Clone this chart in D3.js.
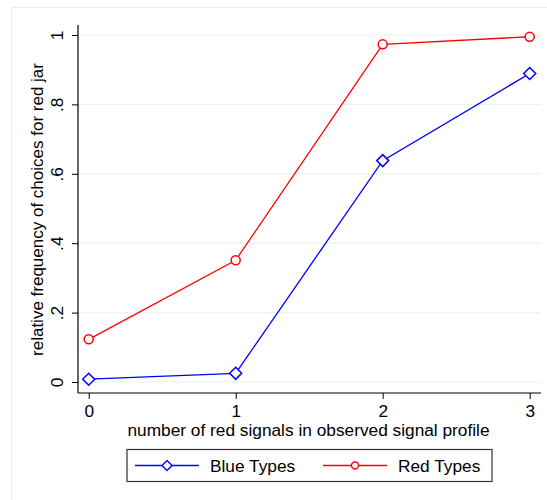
<!DOCTYPE html>
<html><head><meta charset="utf-8">
<script src="https://cdn.jsdelivr.net/npm/d3@7"></script>
<style>body{margin:0;background:#fff}svg{display:block}text{font-family:"Liberation Sans",Arial,sans-serif;fill:#000}</style>
</head><body>
<svg id="c" width="547" height="500"></svg>
<script>
const categories = [0, 1, 2, 3];
const blueTypes = [0.008, 0.025, 0.638, 0.889];
const redTypes = [0.123, 0.351, 0.973, 0.995];
const yTicks = [0, 0.2, 0.4, 0.6, 0.8, 1];
const yTickLabels = ["0", ".2", ".4", ".6", ".8", "1"];
const seriesNames = ["Blue Types", "Red Types"];

(function(){
const FS = 17.3;
const svg = d3.select("#c");
svg.append("rect").attr("x",11.5).attr("y",7.5).attr("width",700).attr("height",700)
  .attr("fill","none").attr("stroke","#e6eef0");

const x = d3.scaleLinear().domain([0,3]).range([88.7,529.7]);
const y = d3.scaleLinear().domain([0,1]).range([382,35]);
const pLeft = 78, pRight = 541, pBottom = 393, pTop = 25;

// gridlines
svg.append("g").selectAll("line").data(yTicks).join("line")
  .attr("x1",pLeft).attr("x2",pRight).attr("y1",d=>y(d)).attr("y2",d=>y(d))
  .attr("stroke","#eaf2f3").attr("stroke-width",1.2);

// y axis
const ya = svg.append("g").attr("transform",`translate(${pLeft},0)`)
  .call(d3.axisLeft(y).tickValues(yTicks).tickFormat((d,i)=>yTickLabels[i]).tickSize(6).tickSizeOuter(0));
ya.select(".domain").remove();
ya.selectAll(".tick line").attr("stroke","#000");
ya.selectAll(".tick text").attr("font-size",FS).attr("text-anchor","middle")
  .attr("x",0).attr("dy",0).attr("transform","translate(-15,0) rotate(-90)");
svg.append("line").attr("x1",pLeft).attr("x2",pLeft).attr("y1",pTop).attr("y2",pBottom).attr("stroke","#000").attr("stroke-width",1.2);

// x axis
const xa = svg.append("g").attr("transform",`translate(0,${pBottom})`)
  .call(d3.axisBottom(x).tickValues(categories).tickFormat(d3.format("d")).tickSize(6).tickSizeOuter(0));
xa.select(".domain").remove();
xa.selectAll(".tick line").attr("stroke","#000");
xa.selectAll(".tick text").attr("font-size",FS).attr("y",23.5).attr("dy",0);
svg.append("line").attr("x1",pLeft).attr("x2",pRight).attr("y1",pBottom).attr("y2",pBottom).attr("stroke","#000").attr("stroke-width",1.2);

// titles
svg.append("text").attr("transform","translate(43,209.5) rotate(-90)").attr("text-anchor","middle")
  .attr("font-size",17).text("relative frequency of choices for red jar");
svg.append("text").attr("x",308.5).attr("y",436).attr("text-anchor","middle")
  .attr("font-size",FS).text("number of red signals in observed signal profile");

const line = d3.line().x((d,i)=>x(categories[i])).y(d=>y(d));
const diamond = (cx,cy,r)=>`M${cx},${cy-r}L${cx+r},${cy}L${cx},${cy+r}L${cx-r},${cy}Z`;

function drawSeries(vals,color,marker){
  svg.append("path").datum(vals).attr("d",line).attr("fill","none").attr("stroke",color).attr("stroke-width",1.3);
  const g = svg.append("g");
  vals.forEach((v,i)=>{
    if(marker==="diamond") g.append("path").attr("d",diamond(x(categories[i]),y(v),6))
      .attr("fill","#fff").attr("stroke",color).attr("stroke-width",1.5);
    else g.append("circle").attr("cx",x(categories[i])).attr("cy",y(v)).attr("r",4.5)
      .attr("fill","#fff").attr("stroke",color).attr("stroke-width",1.5);
  });
}
drawSeries(blueTypes,"#0000ff","diamond");
drawSeries(redTypes,"#ff0000","circle");

// legend
svg.append("rect").attr("x",127).attr("y",449.5).attr("width",365).attr("height",32)
  .attr("fill","#fff").attr("stroke","#333").attr("stroke-width",1.2);
const ly = 465.5;
svg.append("line").attr("x1",135).attr("x2",199).attr("y1",ly).attr("y2",ly).attr("stroke","#0000ff").attr("stroke-width",1.3);
svg.append("path").attr("d",diamond(167,ly,5)).attr("fill","#fff").attr("stroke","#0000ff").attr("stroke-width",1.4);
svg.append("text").attr("x",210).attr("y",472).attr("font-size",FS).text(seriesNames[0]);
svg.append("line").attr("x1",323).attr("x2",387).attr("y1",ly).attr("y2",ly).attr("stroke","#ff0000").attr("stroke-width",1.3);
svg.append("circle").attr("cx",355).attr("cy",ly).attr("r",3.5).attr("fill","#fff").attr("stroke","#ff0000").attr("stroke-width",1.4);
svg.append("text").attr("x",398).attr("y",472).attr("font-size",FS).text(seriesNames[1]);
})();
</script>
</body></html>
